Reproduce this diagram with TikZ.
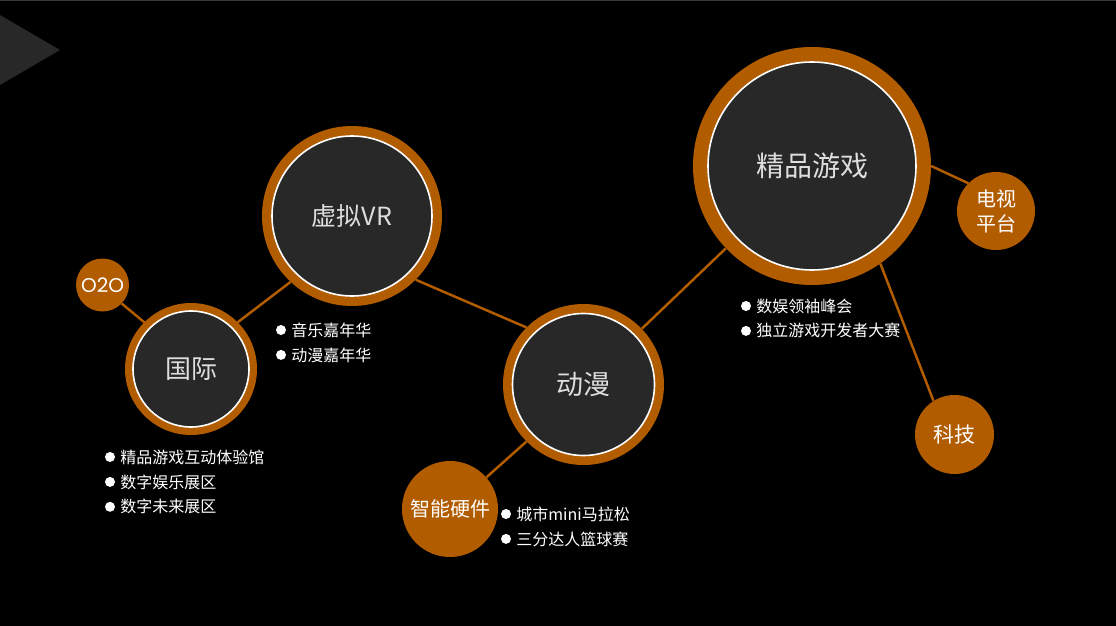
\documentclass[tikz,border=0pt]{standalone}
\usepackage{fontspec}
\setmainfont{Noto Sans CJK SC}
\newfontfamily\latinfont{Poppins}
\usepackage{tikz}
\usetikzlibrary{positioning}
\definecolor{ochre}{RGB}{178,92,0}
\definecolor{disc}{RGB}{40,40,40}
\definecolor{pale}{RGB}{222,222,222}

\begin{document}
\begin{tikzpicture}[x=1pt,y=-1pt,node distance=5pt]
		\tikzstyle{ring}=[circle, fill=ochre, inner sep=0pt]
		\tikzstyle{core}=[circle, fill=disc, draw=white, line width=1.6pt, inner sep=0pt, text=pale]
		\tikzstyle{bubble}=[circle, fill=ochre, inner sep=0pt, text=white, align=center]
		\tikzstyle{link}=[draw=ochre, line width=2.5pt]
		\tikzstyle{dot}=[circle, fill=white, minimum size=10pt, inner sep=0pt]
		\tikzstyle{item}=[text=white, font=\fontsize{16}{16}\selectfont, inner sep=0pt]

		% background, top rule and corner arrow
		\useasboundingbox (0,0) rectangle (1116,626);
		\fill[black] (0,0) rectangle (1116,626);
		\fill[black!78] (0,0) rectangle (1116,1.4);
		\fill[disc] (0,15) -- (60,50) -- (0,85) -- cycle;

		% circles
		\node [bubble, minimum size=53pt, font=\latinfont\fontsize{20}{20}\selectfont] (o2o) at (102.5,285) {O2O};
		\node [ring, minimum size=132pt] (gj) at (191,369) {};
		\node [core, minimum size=116pt, font=\fontsize{26}{26}\selectfont] (gj in) at (gj) {国际};
		\node [ring, minimum size=180pt] (vr) at (352,216) {};
		\node [core, minimum size=160pt, font=\fontsize{25}{25}\selectfont] (vr in) at (vr) {虚拟VR};
		\node [ring, minimum size=161pt] (dm) at (583.5,384.5) {};
		\node [core, minimum size=142pt, font=\fontsize{27}{27}\selectfont] (dm in) at (dm) {动漫};
		\node [bubble, minimum size=96pt, font=\fontsize{20}{20}\selectfont] (zn) at (450,509) {智能硬件};
		\node [ring, minimum size=238pt] (jp) at (812,166) {};
		\node [core, minimum size=208pt, font=\fontsize{28}{28}\selectfont] (jp in) at (jp) {精品游戏};
		\node [bubble, minimum size=78pt, font=\fontsize{20}{25}\selectfont] (ds) at (996,211) {电视\\平台};
		\node [bubble, minimum size=79pt, font=\fontsize{21}{21}\selectfont] (kj) at (954.5,434.5) {科技};

		% links
		\draw [link] (o2o.-44) -- (gj.135);
		\draw [link] (gj.45) -- (vr.227);
		\draw [link] (vr.-45) -- (dm.135);
		\draw [link] (dm.225) -- (zn.41);
		\draw [link] (dm) -- (jp);
		\draw [link] (jp.0) -- (ds.135);
		\draw [link] (jp.-55) -- (kj.122);

		% lists
		\node [dot] (vr d1) at (281,330) {};
		\node [item, right=of vr d1] {音乐嘉年华};
		\node [dot, below=14.5pt of vr d1] (vr d2) {};
		\node [item, right=of vr d2] {动漫嘉年华};

		\node [dot] (gj d1) at (110,457) {};
		\node [item, right=of gj d1] {精品游戏互动体验馆};
		\node [dot, below=14.5pt of gj d1] (gj d2) {};
		\node [item, right=of gj d2] {数字娱乐展区};
		\node [dot, below=14.5pt of gj d2] (gj d3) {};
		\node [item, right=of gj d3] {数字未来展区};

		\node [dot] (dm d1) at (506,514) {};
		\node [item, right=of dm d1] {城市mini马拉松};
		\node [dot, below=14.5pt of dm d1] (dm d2) {};
		\node [item, right=of dm d2] {三分达人篮球赛};

		\node [dot] (jp d1) at (746,306) {};
		\node [item, right=of jp d1] {数娱领袖峰会};
		\node [dot, below=14.5pt of jp d1] (jp d2) {};
		\node [item, right=of jp d2] {独立游戏开发者大赛};
	\end{tikzpicture}
\end{document}
